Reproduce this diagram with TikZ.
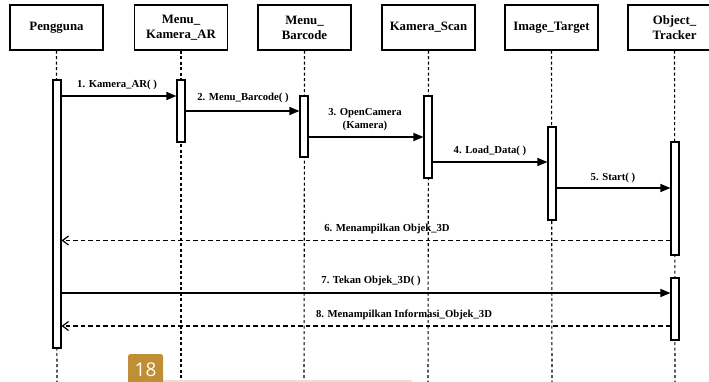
\documentclass[tikz,border=0pt]{standalone}
\usepackage{fontspec}
\setmainfont{Liberation Serif}
\newfontfamily\badgefont{Open Sans}
\usetikzlibrary{arrows.meta}
\definecolor{badgecol}{RGB}{192,142,52}
\definecolor{beigecol}{RGB}{233,224,207}
\begin{document}
\begin{tikzpicture}[x=1pt,y=-1pt,
 actor/.style={draw, line width=1.3pt, minimum width=93pt, minimum height=45pt, inner sep=0pt, align=center, font=\fontsize{12.8}{15}\selectfont\bfseries},
 life/.style={line width=1.1pt, dash pattern=on 3pt off 2.5pt},
 act/.style={draw, fill=white, line width=1.1pt, minimum width=8pt, inner sep=0pt},
 msg/.style={line width=1.4pt, -{Triangle[length=10pt,width=8pt]}},
 ret/.style={line width=1.2pt, dash pattern=on 4.5pt off 3pt, -{Straight Barb[length=6pt,width=9pt]}},
 lbl/.style={font=\fontsize{10.7}{13}\selectfont\bfseries, inner sep=0pt, align=center}]
\useasboundingbox (0,0) rectangle (709,382);
% actors
\node[actor] (p)  at (56.5,27.5) {Pengguna};
\node[actor] (mk) at (181,27.5) {Menu\_\\Kamera\_AR};
\node[actor] (mb) at (304.5,27.5) {Menu\_\\Barcode};
\node[actor] (ks) at (428.5,27.5) {Kamera\_Scan};
\node[actor] (it) at (551.5,27.5) {Image\_Target};
\node[actor] (ot) at (674.5,27.5) {Object\_\\Tracker};
% lifeline ends
\coordinate (pe)  at (57,392);
\coordinate (mke) at (181,392);
\coordinate (mbe) at (304,392);
\coordinate (kse) at (428,392);
\coordinate (ite) at (552,392);
\coordinate (ote) at (675,392);
\draw[life] (p.south)  -- (pe);
\draw[life] (mk.south) -- (mke);
\draw[life] (mb.south) -- (mbe);
\draw[life] (ks.south) -- (kse);
\draw[life] (it.south) -- (ite);
\draw[life] (ot.south) -- (ote);
% activations
\node[act, minimum height=268pt] (a1) at (57,214) {};
\node[act, minimum height=62pt]  (a2) at (181,111) {};
\node[act, minimum height=61pt]  (a3) at (304,126.5) {};
\node[act, minimum height=82pt]  (a4) at (428,137) {};
\node[act, minimum height=93pt]  (a5) at (552,173.5) {};
\node[act, minimum height=113pt] (a6) at (675,198.5) {};
\node[act, minimum height=62pt]  (a7) at (675,309) {};
% messages
\draw[msg] (a1.east |- 0,96) -- (a2.west |- 0,96);
\node[lbl] (l1) at (117,85) {1. Kamera\_AR( )};
\draw[msg] (a2.east |- 0,111) -- (a3.west |- 0,111);
\node[lbl] (l2) at (243,98) {2. Menu\_Barcode( )};
\draw[msg] (a3.east |- 0,137) -- (a4.west |- 0,137);
\node[lbl] (l3) at (365,120) {3. OpenCamera\\(Kamera)};
\draw[msg] (a4.east |- 0,162) -- (a5.west |- 0,162);
\node[lbl] (l4) at (490,151) {4. Load\_Data( )};
\draw[msg] (a5.east |- 0,188) -- (a6.west |- 0,188);
\node[lbl] (l5) at (613,178) {5. Start( )};
\draw[ret] (a6.west |- 0,240.5) -- (a1.east |- 0,240.5);
\node[lbl] (l6) at (387,229) {6. Menampilkan Objek\_3D};
\draw[msg] (a1.east |- 0,293) -- (a7.west |- 0,293);
\node[lbl] (l7) at (371,281) {7. Tekan Objek\_3D( )};
\draw[ret] (a7.west |- 0,326) -- (a1.east |- 0,326);
\node[lbl] (l8) at (404,315) {8. Menampilkan Informasi\_Objek\_3D};
% page badge
\draw[beigecol, line width=1.5pt] (128,381.2) -- (412,381.2);
\fill[badgecol, rounded corners=2.5pt] (128,392) -- (128,354) -- (163,354) -- (163,392) -- cycle;
\node[text=white, inner sep=0pt, font=\badgefont\fontsize{19}{20}\selectfont] (pg) at (145.5,370) {18};
\end{tikzpicture}
\end{document}
